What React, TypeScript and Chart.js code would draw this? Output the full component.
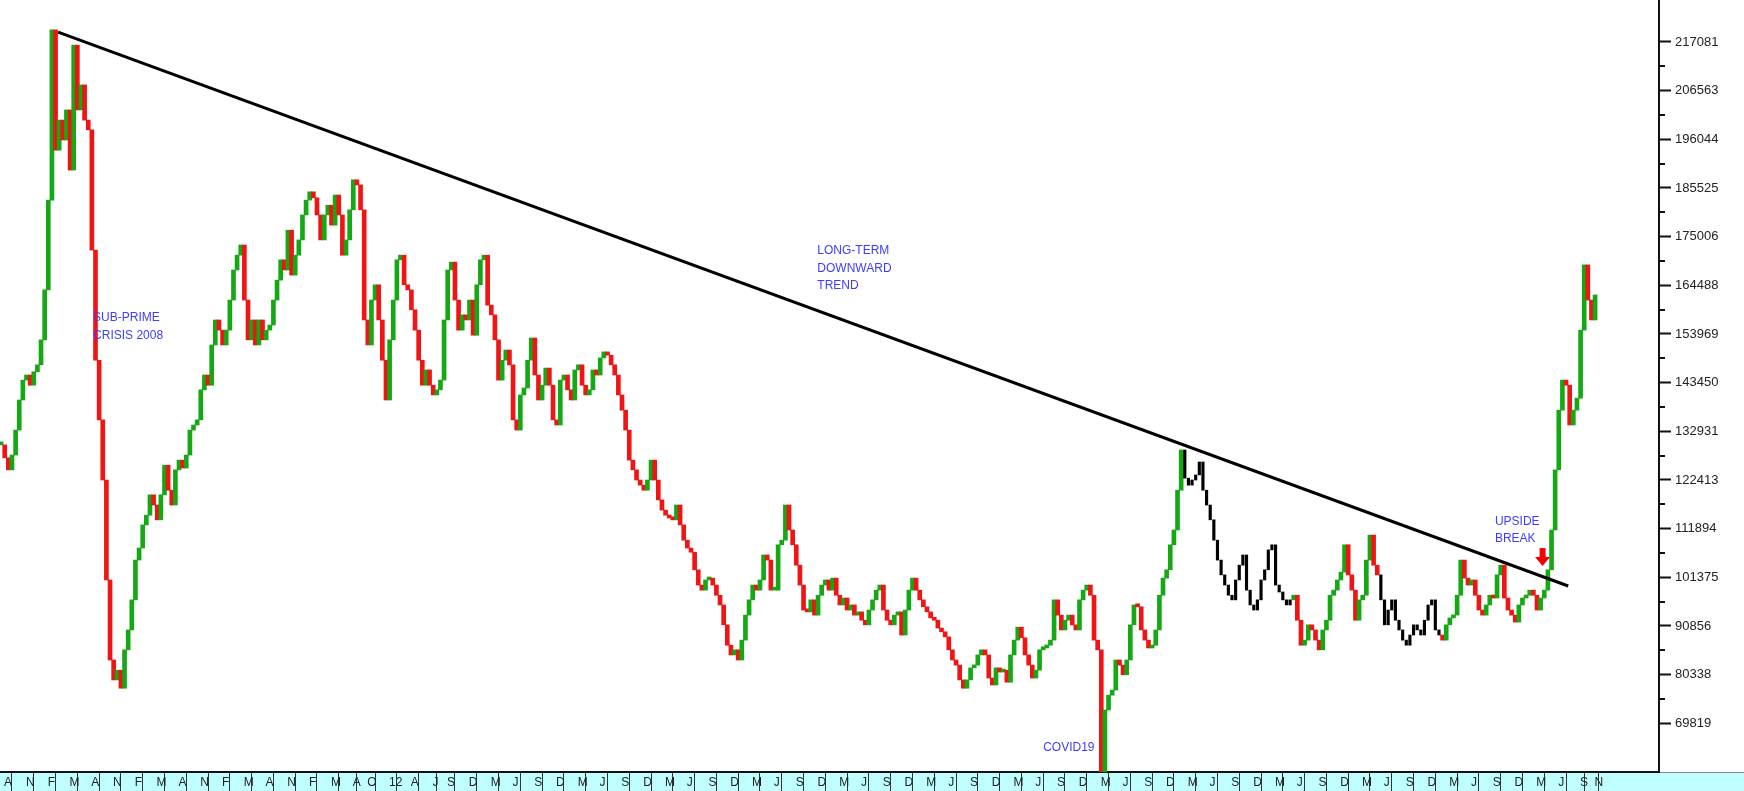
import React, { useEffect, useRef } from 'react';
import { Chart, registerables } from 'chart.js';

Chart.register(...registerables);

// ---- x axis: months counted from Aug 2007 (0 = Aug 2007) ----
const tickMonths = [
  0, 3, 6, 9, 12, 15, 18, 21, 24, 27, 30, 33, 36, 39, 42, 45, 48, 50, 53, 56, 59, 61,
  64, 67, 70, 73, 76, 79, 82, 85, 88, 91, 94, 97, 100, 103, 106, 109, 112, 115, 118, 121,
  124, 127, 130, 133, 136, 139, 142, 145, 148, 151, 154, 157, 160, 163, 166, 169, 172, 175,
  178, 181, 184, 187, 190, 193, 196, 199, 202, 205, 208, 211, 214, 217, 219,
];
const tickLabels = [
  'A', 'N', 'F', 'M', 'A', 'N', 'F', 'M', 'A', 'N', 'F', 'M', 'A', 'N', 'F', 'M', 'A', 'O', '12', 'A', 'J', 'S',
  'D', 'M', 'J', 'S', 'D', 'M', 'J', 'S', 'D', 'M', 'J', 'S', 'D', 'M', 'J', 'S', 'D', 'M', 'J', 'S',
  'D', 'M', 'J', 'S', 'D', 'M', 'J', 'S', 'D', 'M', 'J', 'S', 'D', 'M', 'J', 'S', 'D', 'M',
  'J', 'S', 'D', 'M', 'J', 'S', 'D', 'M', 'J', 'S', 'D', 'M', 'J', 'S', 'N',
];

// ---- y axis tick values ----
const yTickValues = [
  69819, 80338, 90856, 101375, 111894, 122413, 132931, 143450, 153969, 164488, 175006,
  185525, 196044, 206563, 217081,
];

// ---- half-monthly closing prices, starting Aug 2007 ----
const STEP_MONTHS = 0.5;
const closes = [
  130000, 127200, 124600, 127800, 133200, 139700, 144000, 145100, 142900, 145800,
  147300, 152700, 163500, 182900, 219700, 193700, 200200, 195900, 202400, 189400,
  216400, 202400, 207800, 200200, 198100, 172100, 148300, 135400, 122400, 100800,
  83500, 79200, 81300, 77400, 85700, 90000, 96500, 105100, 107700, 112700,
  114800, 119200, 117000, 113800, 119200, 125600, 120200, 117000, 124600, 126700,
  125000, 127800, 133200, 134300, 135400, 141900, 145100, 142900, 151600, 157000,
  154800, 151600, 154800, 161300, 167800, 171000, 173200, 161300, 152700, 157000,
  151600, 157000, 152700, 154800, 155900, 161300, 165600, 170000, 167800, 176400,
  166700, 171000, 174300, 179700, 182900, 184700, 183400, 179700, 174300, 179700,
  181800, 177500, 184000, 179700, 171000, 174300, 180800, 187300, 186200, 180800,
  157000, 151600, 161300, 164600, 157000, 148300, 139700, 152700, 161300, 170000,
  171000, 164600, 163500, 159200, 154800, 148300, 142900, 146200, 142900, 140800,
  141900, 144000,
  157000, 167800, 169500, 161300, 154800, 158100, 157000, 161300, 153700, 164600,
  170000, 171000, 160200, 158100, 152700, 144000, 148300, 150500, 147300, 135400,
  133200, 140800, 142300, 148300, 153100, 145100, 139700, 142900, 146600, 142900,
  135400, 134300, 144000, 145100, 141900, 139700, 146200, 147300, 142900, 140800,
  141900, 146200, 145100, 148800, 150100, 149400, 147300, 145100, 140800, 137500,
  133200, 126700, 124600, 122400, 121300, 120200, 122400, 126700, 122400, 118100,
  115900, 114800, 114200, 113800, 117000, 112700, 109400, 107700, 106800, 103000,
  99700, 98600, 100800, 101200, 99700, 97500, 95400, 91100, 86700, 84600,
  85700, 83500, 87800, 93200, 96500, 99700, 98600, 100800, 106200, 105100,
  98600, 98600, 108400, 109400, 117000, 111600, 108400, 104000, 99700, 94300,
  93900, 96500, 93200, 97500, 99700, 100800, 98600, 101200, 97500, 95400,
  96900, 94300, 95400, 93200, 93900, 92100, 91100, 94300, 96500, 98600,
  99700,
  94300, 92100, 91100, 93200, 93900, 88900, 94300, 98600, 101200, 98600,
  96500, 95000, 93900, 92600, 92100, 90400, 89600, 88500, 85700, 83500,
  82400, 79200, 77400, 79200, 81800, 82400, 84600, 85700, 84600, 79600,
  78100, 81800, 80900, 81300, 78700, 84600, 87800, 90600, 88300, 84600,
  82400, 79600, 81300, 85700, 86100, 86700, 87800, 96500, 93200, 90000,
  92100, 93200, 91100, 90000, 96500, 98600, 99700, 97500, 87800, 85700,
  57000, 72700, 75900, 77000, 83500, 82400, 80300, 83500, 91100, 95400,
  95000, 90000, 87800, 86100, 86700, 90000, 97500, 101200, 103000, 108400,
  111600, 120200, 128900, 122800, 121300, 122400, 123500, 126300, 120200, 117000,
  113800, 109400, 105100, 101900, 99700, 97500, 96500, 100800, 104000, 106200,
  98600, 95400, 94300, 96500, 100800, 103000, 107300, 108400, 99700, 98200,
  96500, 95400, 96500, 97500, 92100, 86700, 87800, 91100, 90000, 87800,
  85700,
  90000, 92100, 97500, 98600, 100800, 102500, 108400, 101900, 98600, 92100,
  96500, 97500, 105100, 110500, 104000, 101900, 96500, 91100, 94300, 96500,
  92100, 90000, 87800, 86700, 88900, 91100, 90000, 88900, 92100, 95400,
  96500, 90000, 88900, 87800, 91100, 92600, 93200, 97500, 105100, 101200,
  99700, 100800, 97500, 94300, 93200, 95400, 97500, 96900, 101900, 104000,
  96900, 94300, 93200, 91700, 95400, 96900, 97500, 98600, 97500, 94300,
  96900, 98600, 103000, 111600, 124600, 137500, 144000, 142900, 134300, 137500,
  140100, 154800, 168900, 161300, 157000, 162400,
];

// index runs drawn as plain black bars (no open/close colouring)
const blackRuns = [
  [326, 355],
  [380, 396],
];

// long-term downward trend line (month, price)
const trendLine = [
  { x: 7.85, y: 219200 },
  { x: 215.8, y: 99500 },
];

// text notes anchored at (month, price) of first line
const notes = [
  { lines: ['SUB-PRIME', 'CRISIS 2008'], m: 12.67, v: 157400 },
  { lines: ['LONG-TERM', 'DOWNWARD', 'TREND'], m: 112.4, v: 171900 },
  { lines: ['UPSIDE', 'BREAK'], m: 205.7, v: 113500 },
  { lines: ['COVID19'], m: 143.5, v: 64500 },
];
const arrowTip = { m: 212.27, v: 103800 };

const X_MIN = -0.15;
const X_MAX = 228.3;
const Y_MIN = 59293;
const Y_MAX = 226159;

const GREEN = '#14A814';
const RED = '#F01414';
const NOTE_BLUE = '#3C3CFF';
const FONT = '"Liberation Sans", Arial, sans-serif';

const isBlack = (i: number) => blackRuns.some(([a, b]) => i >= a && i <= b);

export default function App() {
  const ref = useRef<HTMLCanvasElement | null>(null);

  useEffect(() => {
    if (!ref.current) return;
    Chart.defaults.font.family = FONT;

    const points = closes.map((c, i) => ({
      x: i * STEP_MONTHS,
      y: [i === 0 ? c : closes[i - 1], c],
      i,
    }));
    const colored = points.filter((p) => !isBlack(p.i));
    const black = points.filter((p) => isBlack(p.i));

    const bandPlugin = {
      id: 'band',
      beforeDraw(chart: any) {
        const { ctx, scales, chartArea } = chart;
        const xs = scales.x;
        ctx.save();
        ctx.fillStyle = '#C0FFFF';
        ctx.fillRect(0, xs.top, chart.width, chart.height - xs.top);
        ctx.strokeStyle = '#888';
        ctx.lineWidth = 1;
        ctx.beginPath();
        ctx.moveTo(chartArea.right, xs.top + 0.5);
        ctx.lineTo(chart.width, xs.top + 0.5);
        ctx.stroke();
        ctx.restore();
      },
    };

    const minorTickPlugin = {
      id: 'minorTicks',
      afterDraw(chart: any) {
        const { ctx } = chart;
        const ys = chart.scales.y;
        ctx.save();
        ctx.strokeStyle = '#111';
        ctx.lineWidth = 2;
        for (let k = 0; k < yTickValues.length - 1; k++) {
          const v = (yTickValues[k] + yTickValues[k + 1]) / 2;
          const py = Math.round(ys.getPixelForValue(v));
          ctx.beginPath();
          ctx.moveTo(ys.left, py);
          ctx.lineTo(ys.left + 6, py);
          ctx.stroke();
        }
        ctx.restore();
      },
    };

    const notesPlugin = {
      id: 'notes',
      afterDatasetsDraw(chart: any) {
        const { ctx } = chart;
        const xs = chart.scales.x;
        const ys = chart.scales.y;
        ctx.save();
        ctx.font = `12px ${FONT}`;
        ctx.fillStyle = NOTE_BLUE;
        ctx.textAlign = 'left';
        ctx.textBaseline = 'middle';
        notes.forEach((n) => {
          const px = xs.getPixelForValue(n.m);
          const py = ys.getPixelForValue(n.v);
          n.lines.forEach((t, k) => ctx.fillText(t, px, py + k * 17.5));
        });
        const ax = xs.getPixelForValue(arrowTip.m);
        const ay = ys.getPixelForValue(arrowTip.v);
        ctx.fillStyle = '#F00000';
        ctx.fillRect(ax - 3, ay - 18, 6, 10);
        ctx.beginPath();
        ctx.moveTo(ax - 7.5, ay - 9);
        ctx.lineTo(ax + 7.5, ay - 9);
        ctx.lineTo(ax, ay);
        ctx.closePath();
        ctx.fill();
        ctx.restore();
      },
    };

    const chart = new Chart(ref.current, {
      type: 'bar',
      data: {
        datasets: [
          {
            type: 'line',
            data: trendLine,
            borderColor: '#000',
            borderWidth: 3,
            pointRadius: 0,
            order: 0,
          } as any,
          {
            data: colored as any,
            backgroundColor: (c: any) => {
              const r = c.raw;
              return r && r.y[1] >= r.y[0] ? GREEN : RED;
            },
            borderWidth: 0,
            barThickness: 4,
            minBarLength: 3,
            grouped: false,
            order: 2,
          } as any,
          {
            data: black as any,
            backgroundColor: '#000',
            borderWidth: 0,
            barThickness: 2.5,
            minBarLength: 3,
            grouped: false,
            order: 1,
          } as any,
        ],
      },
      options: {
        animation: false,
        responsive: false,
        events: [],
        layout: { padding: 0 },
        plugins: {
          legend: { display: false },
          tooltip: { enabled: false },
          title: { display: false },
        },
        scales: {
          x: {
            type: 'linear',
            min: X_MIN,
            max: X_MAX,
            offset: false,
            afterBuildTicks: (s: any) => {
              s.ticks = tickMonths.map((v) => ({ value: v }));
            },
            afterFit: (s: any) => {
              s.height = 19;
              s.paddingLeft = 0;
              s.paddingRight = 0;
            },
            ticks: {
              autoSkip: false,
              maxRotation: 0,
              minRotation: 0,
              align: 'start',
              labelOffset: 3,
              padding: -16,
              color: '#222',
              font: { size: 12, family: FONT },
              callback: (_v: any, i: number) => tickLabels[i],
            },
            grid: {
              drawOnChartArea: false,
              drawTicks: true,
              tickLength: 19,
              tickColor: '#333',
              tickWidth: 1,
            },
            border: { display: true, color: '#111', width: 2 },
          } as any,
          y: {
            type: 'linear',
            position: 'right',
            min: Y_MIN,
            max: Y_MAX,
            afterBuildTicks: (s: any) => {
              s.ticks = yTickValues.map((v) => ({ value: v }));
            },
            afterFit: (s: any) => {
              s.width = 85;
              s.paddingTop = 0;
              s.paddingBottom = 0;
            },
            ticks: {
              autoSkip: false,
              padding: 4,
              color: '#222',
              font: { size: 13, family: FONT },
              callback: (v: any) => String(v),
            },
            grid: {
              drawOnChartArea: false,
              drawTicks: true,
              tickLength: 12,
              tickColor: '#111',
              tickWidth: 2,
            },
            border: { display: true, color: '#111', width: 2 },
          } as any,
        },
      },
      plugins: [bandPlugin, minorTickPlugin, notesPlugin],
    });

    return () => chart.destroy();
  }, []);

  return (
    <div style={{ position: 'fixed', left: 0, top: 0, width: 1744, height: 791, background: '#fff' }}>
      <canvas ref={ref} width={1744} height={791} style={{ display: 'block' }} />
    </div>
  );
}
